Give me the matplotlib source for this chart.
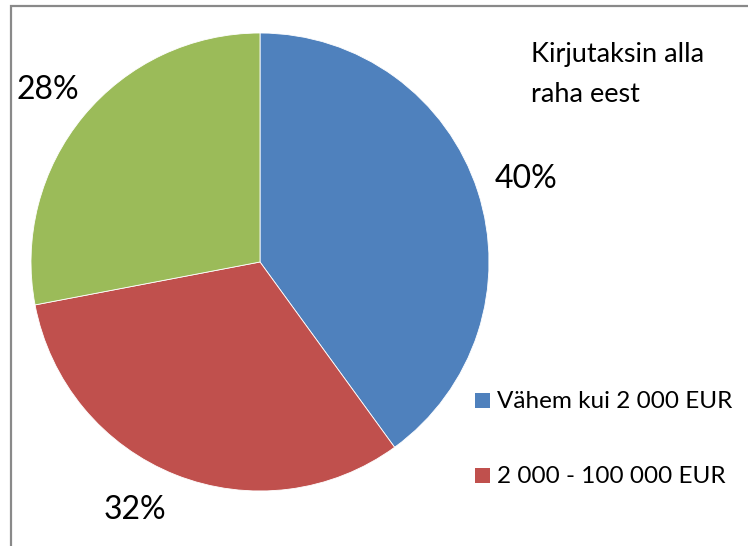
import matplotlib
matplotlib.use('Agg')
import matplotlib.pyplot as plt
from matplotlib.patches import Rectangle

# data
categories = ['Vähem kui 2 000 EUR', '2 000 - 100 000 EUR', 'Üle 100 000 EUR']
shares = [40, 32, 28]
colors = ['#4F81BD', '#C0504D', '#9BBB59']
title_lines = ['Kirjutaksin alla', 'raha eest']

W, H = 748, 546
plt.rcParams['font.family'] = ['Lato', 'DejaVu Sans']

fig = plt.figure(figsize=(W / 100, H / 100), dpi=100)

# pie: centre (260, 262) px, radius 229 px
CX, CY, R = 260, 262, 229
ax = fig.add_axes([(CX - R) / W, (H - CY - R) / H, 2 * R / W, 2 * R / H])
wedges, texts, autotexts = ax.pie(
    shares, colors=colors, startangle=90, counterclock=False,
    autopct='%1.0f%%', pctdistance=1.2,
    wedgeprops=dict(edgecolor='white', linewidth=0.6))

# label centres as placed by the original (pixels)
label_px = [(526, 179), (135, 510), (48, 90)]
for t, (px, py) in zip(autotexts, label_px):
    t.set_position(((px - CX) / R, (CY - py) / R))
    t.set_fontsize(23)
    t.set_color('black')
    t.set_ha('center')
    t.set_va('center')
ax.set_xlim(-1, 1)
ax.set_ylim(-1, 1)
ax.set_aspect('auto')
ax.axis('off')

# chart border (right/bottom lie outside the image)
fig.patches.append(Rectangle((11 / W, -0.1), 1.2, 1.1 - 6 / H,
                             transform=fig.transFigure, fill=False,
                             edgecolor='#898989', linewidth=1.6, clip_on=False))

# title
for i, line in enumerate(title_lines):
    fig.text(531 / W, 1 - (62 + 40 * i) / H, line, fontsize=19.5,
             va='baseline', ha='left')

# legend (the third entry lies below the image edge in the original)
for i, (lab, col) in enumerate(zip(categories[:2], colors[:2])):
    base = 408 + 75 * i
    fig.patches.append(Rectangle((475 / W, 1 - base / H), 15 / W, 15 / H,
                                 transform=fig.transFigure, facecolor=col,
                                 edgecolor='none'))
    fig.text(497 / W, 1 - base / H, lab, fontsize=17.5, va='baseline', ha='left')

fig.savefig('out.png', dpi=100)
